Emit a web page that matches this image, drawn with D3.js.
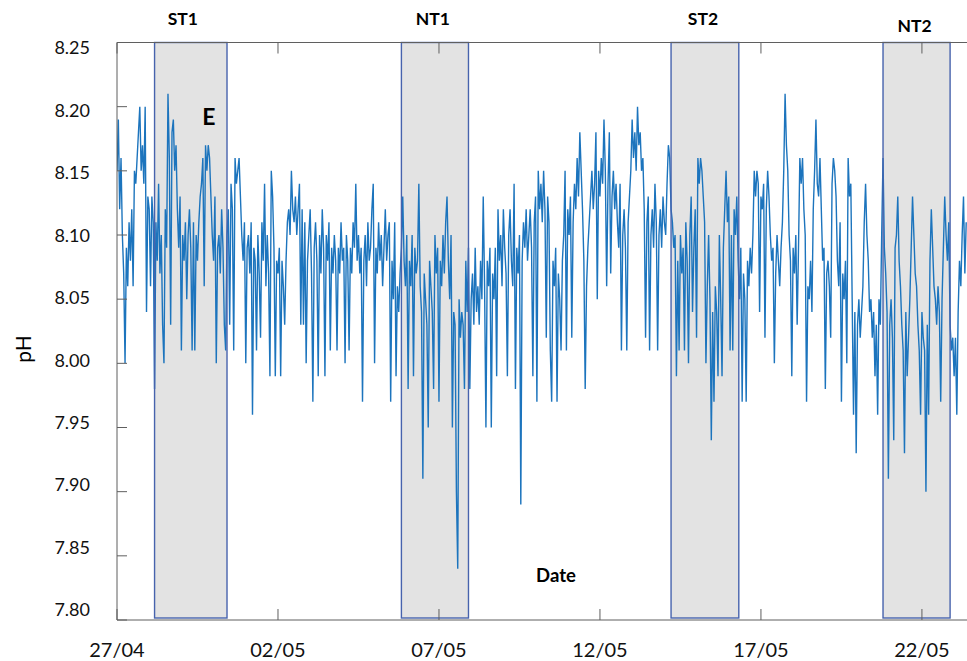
<!DOCTYPE html>
<html>
<head>
<meta charset="utf-8">
<script src="https://cdn.jsdelivr.net/npm/d3@7"></script>
<style>
  html, body { margin: 0; padding: 0; background: #fff; }
  svg { display: block; font-family: Lato, "Open Sans", "Noto Sans", sans-serif; }
</style>
</head>
<body>
<svg id="chart" width="967" height="661"></svg>
<script>
// Hourly pH readings, starting 27/04 00:00
const seriesStart = "2019-04-27T00:00:00Z";
const phHourly = [
  8.15, 8.19, 8.12, 8.16,
  8.10, 8.07, 8.00, 8.09, 8.06, 8.11, 8.08,
  8.12, 8.06, 8.15, 8.14, 8.16, 8.18, 8.20, 8.15, 8.17, 8.14, 8.20, 8.04,
  8.13, 8.12, 8.06, 8.13, 8.11,
  7.98, 8.11, 8.08, 8.14, 8.07, 8.10, 8.03, 8.00, 8.12, 8.09,
  8.21, 8.16, 8.03, 8.18, 8.19, 8.15, 8.17,
  8.12, 8.09, 8.13, 8.01, 8.10, 8.08, 8.11, 8.05, 8.10, 8.12, 8.09, 8.01, 8.11, 8.01, 8.10, 8.08, 8.11, 8.13,
  8.14, 8.16, 8.06, 8.17, 8.15, 8.17, 8.16, 8.13,
  8.10, 8.08, 8.13, 8.00, 8.09, 8.10, 8.07, 8.12, 8.09, 8.03, 8.01, 8.10,
  8.12, 8.03, 8.14, 8.12, 8.01, 8.16, 8.14, 8.15, 8.16, 8.13,
  8.10, 8.08, 8.11, 8.00, 8.09, 8.10, 8.07, 8.11, 7.96, 8.09, 8.08, 8.01, 8.10, 8.07,
  8.02, 8.11, 8.08, 8.14, 8.06, 8.10, 8.07, 7.99,
  8.15, 8.13, 8.09, 7.99, 8.08, 8.07, 8.09, 7.99, 8.08, 8.06, 8.03, 8.08,
  8.11, 8.12, 8.10, 8.15, 8.12, 8.11, 8.13, 8.10, 8.12, 8.14, 8.03, 8.12, 8.03, 8.11, 8.00,
  8.08, 8.10, 8.12, 8.07, 7.97, 8.09, 8.11, 8.08, 7.99, 8.10, 8.07, 8.12, 8.09, 7.99, 8.10, 8.08, 8.11, 8.01, 8.09, 8.07, 8.10, 8.08, 8.01,
  8.09, 8.07, 8.11, 8.08, 8.09, 8.00, 8.10, 8.08, 8.01, 8.09, 8.07, 8.11, 8.09, 8.14, 8.08,
  8.10, 8.07, 8.09, 7.97, 8.08, 8.10, 8.06, 8.11, 8.08, 8.09, 8.12, 8.14, 8.00, 8.09, 8.07, 8.11, 8.08, 8.10, 8.06, 8.09, 8.12, 8.08, 8.10, 8.11,
  7.97, 8.08, 8.05, 8.11, 7.99, 8.06, 8.04, 8.07, 8.09,
  8.13, 8.08, 8.06, 8.10, 7.98, 8.08, 8.06, 8.10, 7.99, 8.09, 8.07,
  8.08, 8.14, 8.06, 8.04, 7.91, 8.07, 8.05, 8.03, 7.95, 8.08, 8.06, 8.04,
  7.98, 8.10, 8.07, 8.09, 7.97, 8.08, 8.06, 8.10, 8.07, 8.11, 8.13, 8.08, 8.05,
  8.10, 7.95, 8.04, 8.03, 7.90, 7.84, 8.05, 8.02, 8.04, 8.03, 7.98, 8.08, 8.04,
  8.09, 7.98, 8.05, 8.07, 8.03, 8.09, 8.04, 8.06, 8.03, 8.08, 8.05, 8.13, 8.06, 7.95,
  8.08, 8.06, 8.09, 7.95, 8.07, 8.05, 8.09, 7.99, 8.12, 8.08, 8.10, 8.06, 8.12, 8.09, 8.07, 7.99, 8.10, 8.12, 8.08, 8.06, 8.14, 7.98, 8.09, 8.07, 8.10,
  7.89, 8.08, 8.11, 8.09, 8.12, 8.08, 8.10, 8.12, 8.09, 7.99, 8.11, 8.13, 7.97, 8.15, 8.12, 8.14, 8.11, 8.15, 8.12,
  8.02, 8.13, 8.11, 8.01, 7.97, 8.08, 8.06, 8.09, 7.97, 8.07, 8.05, 8.01, 8.08,
  8.10, 8.15, 8.01, 8.12, 8.10, 8.13, 8.02, 8.11, 8.14, 8.12, 8.16, 8.13, 8.18, 8.15, 8.12,
  8.08, 7.98, 8.06, 8.09, 8.11,
  8.13, 8.15, 8.12, 8.14, 8.18, 8.05, 8.15, 8.13, 8.16, 8.14, 8.19, 8.15, 8.06, 8.14, 8.18, 8.07, 8.13, 8.15, 8.12, 8.14,
  8.11, 8.09, 8.14, 8.01, 8.10, 8.12, 8.09, 8.01, 8.11, 8.13,
  8.15, 8.19, 8.16, 8.18, 8.15, 8.20, 8.17, 8.18, 8.15, 8.16,
  8.12, 8.02, 8.11, 8.13, 8.01, 8.10, 8.12, 8.09, 8.14, 8.11, 8.01, 8.10, 8.12, 8.09, 8.13, 8.11, 8.10,
  8.14, 8.17, 8.16, 8.12,
  8.11, 8.09, 8.10, 7.99, 8.08, 8.01, 8.10, 8.07, 8.09, 8.01, 8.11, 8.08,
  8.00, 8.10, 8.13, 8.04, 8.09, 8.12,
  8.02, 8.16, 8.14, 8.16, 8.15, 8.13, 8.11, 8.00,
  8.06, 8.10, 8.05, 7.94, 8.04, 7.97, 8.06, 8.04, 7.99, 8.10, 8.05, 7.99,
  8.09, 8.12, 8.15, 8.11, 8.13, 8.01, 8.10, 8.01, 8.12, 8.10, 8.13,
  8.08, 8.05, 8.09, 7.97, 8.07, 8.05, 7.97, 8.08, 8.06, 8.09, 8.07, 8.10,
  8.15, 8.13, 8.15, 8.14, 8.04, 8.13, 8.12, 8.14, 8.02, 8.12, 8.15, 8.13,
  8.10, 8.08, 8.09, 8.00, 8.07, 8.10, 8.08, 8.06, 8.09, 8.11,
  8.15, 8.21, 8.17, 8.15,
  8.10, 8.08, 7.99, 8.09, 8.07, 8.10, 8.03, 8.09,
  8.16, 8.14, 8.16, 8.12, 8.10,
  7.97, 8.06, 8.05, 8.08, 8.04,
  8.12, 8.15, 8.19, 8.14, 8.13, 8.16, 8.12, 8.08,
  8.09, 7.98, 8.07, 8.08, 8.06, 8.02,
  8.14, 8.16, 8.15, 8.13,
  8.08, 8.06, 8.11, 7.97, 8.07, 8.05, 8.08, 8.00,
  8.16, 8.13, 8.14,
  8.05, 7.96, 8.04, 7.93, 8.03, 8.05, 8.02, 8.04, 8.06,
  8.11, 8.14, 8.10, 8.08,
  8.04, 8.05, 8.02, 8.04, 7.99, 8.03, 7.96, 8.05, 8.03,
  8.10, 8.16, 8.09, 8.07,
  8.04, 7.91, 8.03, 8.05, 8.02, 7.94, 8.09,
  8.10, 8.13, 8.08, 8.06,
  8.03, 8.01, 7.93, 8.04, 7.99, 8.02, 8.05,
  8.09, 8.13, 8.10, 8.07, 8.06,
  8.03, 8.01, 7.96, 8.04, 8.02, 8.01, 7.90, 8.03, 7.96,
  8.08, 8.12, 8.09, 8.06,
  8.05, 8.03, 8.06, 8.04, 7.97, 8.05, 8.09,
  8.13, 8.10, 8.08, 8.11,
  8.03, 8.01, 8.02, 7.99, 8.02, 7.96,
  8.04, 8.08, 8.06, 8.10, 8.13, 8.07, 8.11
];

// Shaded sampling periods
const periodNames = ["ST1", "NT1", "ST2", "NT2"];
const periodStarts = ["2019-04-28T04:00:00Z", "2019-05-05T20:00:00Z", "2019-05-14T05:00:00Z", "2019-05-20T19:00:00Z"];
const periodEnds   = ["2019-04-30T10:00:00Z", "2019-05-07T22:00:00Z", "2019-05-16T07:30:00Z", "2019-05-22T21:00:00Z"];

// Axes
const axisStart = "2019-04-27T00:00:00Z";
const axisEnd = "2019-05-23T09:36:00Z";
const dateTicks = ["2019-04-27", "2019-05-02", "2019-05-07", "2019-05-12", "2019-05-17", "2019-05-22"];
const phTicks = [7.80, 7.85, 7.90, 7.95, 8.00, 8.05, 8.10, 8.15, 8.20, 8.25];

// Event marker
const eventLabel = { text: "E", time: "2019-04-29T20:30:00Z", ph: 8.186 };

const plot = { left: 117, right: 967, top: 42.5, bottom: 620 };
const svg = d3.select("#chart");

const x = d3.scaleUtc()
  .domain([new Date(axisStart), new Date(axisEnd)])
  .range([plot.left, plot.right]);
const y = d3.scaleLinear()
  .domain([7.80, 8.25])
  .range([plot.bottom, plot.top]);
// tick labels sit on a slightly tighter grid than the ticks
const yLabel = d3.scaleLinear()
  .domain([7.80, 8.25])
  .range([610, 48]);

const t0 = new Date(seriesStart).getTime();
const readings = phHourly.map((v, i) => ({ t: new Date(t0 + i * 3600e3), v }));
const periods = periodNames.map((name, i) => ({
  name, start: new Date(periodStarts[i]), end: new Date(periodEnds[i])
}));

svg.append("defs").append("clipPath").attr("id", "plot-clip")
  .append("rect")
  .attr("x", plot.left).attr("y", plot.top - 2)
  .attr("width", plot.right - plot.left).attr("height", plot.bottom - plot.top + 2);

// period fills
svg.append("g").selectAll("rect").data(periods).join("rect")
  .attr("x", d => x(d.start))
  .attr("y", y(8.25))
  .attr("width", d => x(d.end) - x(d.start))
  .attr("height", y(7.80) - y(8.25) - 2)
  .attr("fill", "#e3e3e3");

// pH series
const line = d3.line().x(d => x(d.t)).y(d => y(d.v));
svg.append("path")
  .datum(readings)
  .attr("clip-path", "url(#plot-clip)")
  .attr("fill", "none")
  .attr("stroke", "#1c74bd")
  .attr("stroke-width", 1.4)
  .attr("stroke-linejoin", "miter")
  .attr("stroke-miterlimit", 3)
  .attr("d", line);

// period outlines
svg.append("g").selectAll("rect").data(periods).join("rect")
  .attr("x", d => x(d.start))
  .attr("y", y(8.25))
  .attr("width", d => x(d.end) - x(d.start))
  .attr("height", y(7.80) - y(8.25) - 2)
  .attr("fill", "none")
  .attr("stroke", "#4763ad")
  .attr("stroke-width", 1.4);

// frame: left, bottom and top lines
const frame = svg.append("g").attr("stroke", "#5f5f5f").attr("stroke-width", 1).attr("fill", "none");
frame.append("line").attr("x1", plot.left).attr("x2", plot.left).attr("y1", plot.top).attr("y2", plot.bottom);
frame.append("line").attr("x1", plot.left).attr("x2", plot.right).attr("y1", plot.bottom).attr("y2", plot.bottom);
frame.append("line").attr("x1", plot.left).attr("x2", plot.right).attr("y1", plot.top).attr("y2", plot.top);

// y ticks (inward) and labels
const yAxis = svg.append("g");
yAxis.selectAll("line").data(phTicks).join("line")
  .attr("x1", plot.left).attr("x2", plot.left + 10)
  .attr("y1", d => y(d)).attr("y2", d => y(d))
  .attr("stroke", "#5f5f5f");
yAxis.selectAll("text").data(phTicks).join("text")
  .attr("x", 90)
  .attr("y", d => yLabel(d))
  .attr("dy", "0.35em")
  .attr("text-anchor", "end")
  .attr("font-size", 18)
  .attr("fill", "#111")
  .text(d3.format(".2f"));

// x ticks (inward at bottom and top) and labels
const fmtDate = d3.utcFormat("%d/%m");
const xTickDates = dateTicks.map(s => new Date(s + "T00:00:00Z"));
const xAxis = svg.append("g");
xAxis.selectAll("line.b").data(xTickDates).join("line").attr("class", "b")
  .attr("x1", d => x(d)).attr("x2", d => x(d))
  .attr("y1", plot.bottom).attr("y2", plot.bottom - 11)
  .attr("stroke", "#5f5f5f");
xAxis.selectAll("line.t").data(xTickDates).join("line").attr("class", "t")
  .attr("x1", d => x(d)).attr("x2", d => x(d))
  .attr("y1", plot.top).attr("y2", plot.top + 11)
  .attr("stroke", "#5f5f5f");
xAxis.selectAll("text").data(xTickDates).join("text")
  .attr("x", d => x(d))
  .attr("y", 657)
  .attr("text-anchor", "middle")
  .attr("font-size", 20)
  .attr("fill", "#111")
  .text(fmtDate);

// period names above the frame
svg.append("g").selectAll("text").data(periods).join("text")
  .attr("x", d => (x(d.start) + x(d.end)) / 2 - (d.name === "ST1" ? 8 : 2))
  .attr("y", d => d.name === "NT2" ? 32 : 25)
  .attr("text-anchor", "middle")
  .attr("font-size", 17.5)
  .attr("font-weight", "bold")
  .attr("fill", "#000")
  .text(d => d.name);

// event marker
svg.append("text")
  .attr("x", x(new Date(eventLabel.time)))
  .attr("y", y(eventLabel.ph))
  .attr("text-anchor", "middle")
  .attr("font-size", 23)
  .attr("font-weight", "bold")
  .attr("fill", "#000")
  .text(eventLabel.text);

// axis titles
svg.append("text")
  .attr("x", 556).attr("y", 582)
  .attr("text-anchor", "middle")
  .attr("font-size", 18.5)
  .attr("font-weight", "bold")
  .attr("fill", "#000")
  .text("Date");

svg.append("text")
  .attr("transform", "translate(31,349) rotate(-90)")
  .attr("text-anchor", "middle")
  .attr("font-size", 21)
  .attr("fill", "#000")
  .text("pH");
</script>
</body>
</html>
